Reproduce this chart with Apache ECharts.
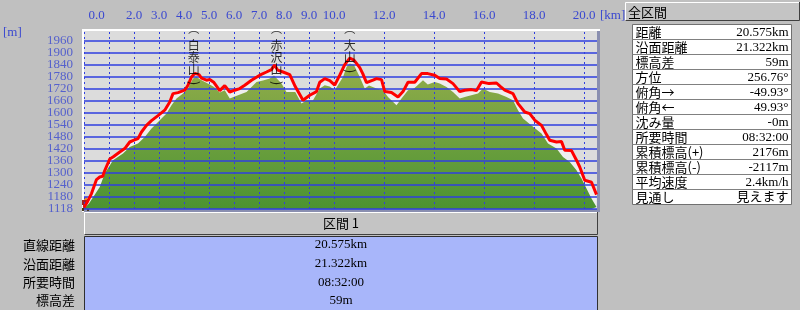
<!DOCTYPE html>
<html><head><meta charset="utf-8">
<script src="https://cdn.jsdelivr.net/npm/echarts@6/dist/echarts.min.js"></script>
<style>html,body{margin:0;padding:0;background:#c0c0c0}#c{width:800px;height:310px}</style>
</head><body><div id="c"></div>
<script>
// ---- data ----
const routeKm = [0.0,0.12,0.3,0.5,0.63,0.75,0.83,1.03,1.16,1.43,1.63,1.83,2.0,2.16,2.3,2.5,2.7,2.96,3.23,3.43,3.56,3.76,4.03,4.16,4.3,4.43,4.6,4.7,4.9,5.03,5.2,5.43,5.63,5.83,6.03,6.23,6.43,6.7,7.03,7.3,7.5,7.62,7.75,7.96,8.23,8.45,8.76,9.03,9.3,9.43,9.63,9.83,10.03,10.23,10.43,10.63,10.8,11.03,11.15,11.3,11.56,11.7,11.9,12.03,12.3,12.56,12.76,12.96,13.23,13.5,13.75,14.03,14.23,14.5,14.76,15.03,15.23,15.5,15.7,15.9,16.2,16.5,16.66,16.83,17.16,17.36,17.63,17.83,18.03,18.3,18.5,18.63,18.9,19.1,19.23,19.5,19.7,19.83,20.03,20.3,20.5];
const routeM = [1125,1150,1195,1265,1278,1282,1310,1368,1378,1403,1420,1453,1462,1470,1503,1536,1560,1585,1612,1653,1695,1700,1712,1737,1778,1796,1790,1772,1762,1765,1750,1710,1735,1703,1712,1720,1737,1762,1787,1803,1815,1838,1812,1803,1790,1730,1662,1687,1705,1752,1770,1760,1737,1787,1840,1872,1862,1825,1795,1750,1762,1770,1765,1705,1700,1678,1705,1752,1752,1795,1795,1787,1770,1768,1745,1705,1712,1715,1710,1753,1745,1748,1730,1712,1695,1645,1603,1595,1562,1536,1490,1462,1453,1455,1412,1410,1362,1328,1262,1252,1190];
const terrainKm = [0.0,0.2,0.63,0.83,1.16,1.56,1.83,2.16,2.43,2.7,3.03,3.3,3.5,3.7,3.96,4.16,4.36,4.5,4.7,5.03,5.2,5.43,5.63,5.83,6.03,6.5,6.9,7.16,7.43,7.6,7.9,8.1,8.45,8.7,8.9,9.16,9.43,9.63,9.83,10.03,10.36,10.5,10.63,10.8,11.03,11.23,11.4,11.7,11.96,12.16,12.5,12.7,12.96,13.2,13.56,13.75,14.03,14.23,14.5,14.76,15.03,15.3,15.76,15.96,16.23,16.56,16.9,17.16,17.36,17.56,17.9,18.3,18.56,18.9,19.16,19.43,19.7,19.9,20.1,20.3,20.5];
const terrainM = [1120,1145,1228,1295,1362,1395,1428,1445,1478,1520,1562,1595,1637,1670,1695,1720,1770,1778,1762,1740,1728,1700,1712,1670,1680,1703,1753,1760,1770,1785,1745,1703,1703,1645,1660,1662,1720,1737,1730,1712,1778,1828,1845,1838,1778,1720,1735,1720,1712,1678,1637,1670,1712,1720,1762,1740,1753,1745,1728,1703,1670,1680,1695,1720,1703,1695,1678,1662,1612,1570,1536,1495,1445,1420,1378,1353,1312,1270,1220,1170,1128];
const xTickValues = [0,2,3,4,5,6,7,8,9,10,12,14,16,18,20];
const xGridKm = [0,1,2,3,4,5,6,7,8,9,10,12,14,16,18,20];
const yTickValues = [1118,1180,1240,1300,1360,1420,1480,1540,1600,1660,1720,1780,1840,1900,1960];
const peakNames = ['白泰山','赤沢山','大山'];
const peakKm = [4.39,7.7,10.63];
const summaryTitle = '全区間';
const summaryLabels = ['距離','沿面距離','標高差','方位','俯角→','俯角←','沈み量','所要時間','累積標高(+)','累積標高(-)','平均速度','見通し'];
const summaryValues = ['20.575km','21.322km','59m','256.76°','-49.93°','49.93°','-0m','08:32:00','2176m','-2117m','2.4km/h','見えます'];
const sectionTitle = '区間 1';
const sectionLabels = ['直線距離','沿面距離','所要時間','標高差'];
const sectionValues = ['20.575km','21.322km','08:32:00','59m'];

// ---- chart ----
const X_MAX = 20.52, Y_MIN = 1118, Y_MAX = 2008;
const BLUE = '#2f3fe0', LBL = '#3a48d0';
const FONT = "'Liberation Serif','Noto Sans CJK JP',serif";
const JFONT = "'Noto Sans CJK JP',sans-serif";

const route = routeKm.map((k,i)=>[k,routeM[i]]);
const terrain = terrainKm.map((k,i)=>[k,terrainM[i]]);

const graphics = [];
graphics.push({type:'rect',shape:{x:82,y:29,width:518,height:183},style:{fill:'#ffffff'},z:-10});
graphics.push({type:'rect',shape:{x:84,y:31,width:516,height:181},style:{fill:'#8a8fb0'},z:-9});
graphics.push({type:'text',style:{text:'[m]',x:3,y:33,verticalAlign:'middle',font:'13px '+FONT,fill:LBL}});
graphics.push({type:'text',style:{text:'[km]',x:600,y:16,verticalAlign:'middle',font:'13px '+FONT,fill:LBL}});
// small hiker icon at the start point
graphics.push({type:'group',x:80,y:197,z:50,children:[
  {type:'rect',shape:{x:4,y:0,width:3,height:3},style:{fill:'#e08a30'}},
  {type:'rect',shape:{x:2,y:3,width:6,height:5},style:{fill:'#a02020'}},
  {type:'rect',shape:{x:3,y:8,width:5,height:3},style:{fill:'#7a5a30'}},
  {type:'rect',shape:{x:2,y:11,width:2,height:3},style:{fill:'#4a3a20'}},
  {type:'rect',shape:{x:7,y:11,width:2,height:3},style:{fill:'#4a3a20'}}
]});
function bevelBtn(x,y,w,h){
  graphics.push({type:'rect',shape:{x:x,y:y,width:w,height:h},style:{fill:'#c4c4c4',stroke:null}});
  graphics.push({type:'polyline',shape:{points:[[x+0.5,y+h],[x+0.5,y+0.5],[x+w,y+0.5]]},style:{stroke:'#ffffff',lineWidth:1,fill:null}});
  graphics.push({type:'polyline',shape:{points:[[x+0.5,y+h-0.5],[x+w-0.5,y+h-0.5],[x+w-0.5,y]]},style:{stroke:'#404040',lineWidth:1,fill:null}});
}
bevelBtn(625,2,175,19);
graphics.push({type:'text',style:{text:summaryTitle,x:628,y:12,verticalAlign:'middle',font:'13px '+JFONT,fill:'#000'}});
const TX=632.5, TY=24.5, TW=159, RH=15;
graphics.push({type:'rect',shape:{x:TX,y:TY,width:TW,height:RH*summaryLabels.length},style:{fill:'#ffffff',stroke:'#707070',lineWidth:1}});
summaryLabels.forEach((l,i)=>{
  if(i>0) graphics.push({type:'line',shape:{x1:TX,y1:TY+RH*i,x2:TX+TW,y2:TY+RH*i},style:{stroke:'#808080',lineWidth:1}});
  graphics.push({type:'text',style:{text:l,x:TX+3,y:TY+RH*i+8,verticalAlign:'middle',font:'13px '+JFONT,fill:'#000'}});
  graphics.push({type:'text',style:{text:summaryValues[i],x:TX+TW-3,y:TY+RH*i+8,align:'right',verticalAlign:'middle',font:'13px '+FONT,fill:'#000'}});
});
bevelBtn(84,212,514,23);
graphics.push({type:'text',style:{text:sectionTitle,x:341,y:223,align:'center',verticalAlign:'middle',font:'13px '+JFONT,fill:'#000'}});
graphics.push({type:'rect',shape:{x:84.5,y:236.5,width:513,height:80},style:{fill:'#a8b6fa',stroke:'#303030',lineWidth:1}});
const secY = [245,264,282.5,300.5];
sectionLabels.forEach((l,i)=>{
  graphics.push({type:'text',style:{text:l,x:75,y:secY[i],align:'right',verticalAlign:'middle',font:'13px '+JFONT,fill:'#000'}});
  graphics.push({type:'text',style:{text:sectionValues[i],x:341,y:secY[i],align:'center',verticalAlign:'middle',font:'13px '+FONT,fill:'#000'}});
});

const option = {
  animation:false,
  backgroundColor:'#c0c0c0',
  grid:{left:84,top:31,width:513,height:178,show:true,backgroundColor:'#dcdcdc',borderWidth:0},
  xAxis:{type:'value',position:'top',min:0,max:X_MAX,
    axisLine:{show:false},axisTick:{show:false},splitLine:{show:false},
    axisLabel:{customValues:xTickValues,color:LBL,fontFamily:FONT,fontSize:13,margin:9,showMinLabel:true,showMaxLabel:true,
      formatter:v=> v===0 ? '{s|0.0}' : v.toFixed(1),
      rich:{s:{color:LBL,fontFamily:FONT,fontSize:13,padding:[0,0,0,25]}}}},
  yAxis:{type:'value',min:Y_MIN,max:Y_MAX,
    axisLine:{show:false},axisTick:{show:false},splitLine:{show:false},axisLabel:{show:false}},
  series:[
    {type:'line',data:route,symbol:'none',lineStyle:{width:0},areaStyle:{color:'#eeeeee',opacity:1},z:1,silent:true},
    {type:'line',data:terrain,symbol:'none',lineStyle:{width:0},
      areaStyle:{opacity:1,color:new echarts.graphic.LinearGradient(0,0,0,1,[{offset:0,color:'#93ad4b'},{offset:1,color:'#4b9332'}])},
      z:2,silent:true,
      markLine:{silent:true,symbol:'none',label:{show:false},animation:false,
        data:[
          ...yTickValues.map(v=>({yAxis:v,lineStyle:{color:BLUE,width:1.5,type:'solid'}})),
          ...xGridKm.map(v=>({xAxis:v,lineStyle:{color:BLUE,width:1,type:[2,3]}}))
        ]}},
    {type:'line',data:route,symbol:'none',lineStyle:{color:'#ff0000',width:3},z:10,silent:true},
    // y-axis tick labels, positioned through the y scale
    {type:'scatter',data:yTickValues.map(v=>[0,v]),symbolSize:0,z:12,silent:true,clip:false,
      label:{show:true,position:'left',distance:11,formatter:p=>String(p.value[1]),color:LBL,fontFamily:FONT,fontSize:13}},
    {type:'scatter',data:peakKm.map((k,i)=>({value:[k,Y_MAX],name:peakNames[i]})),symbolSize:0,z:12,silent:true,
      label:{show:true,position:'bottom',distance:0,
        formatter:p=>'{b|⌒}\n'+p.name.split('').map(c=>'{c|'+c+'}').join('\n')+'\n{d|‿}',
        rich:{c:{fontFamily:JFONT,fontSize:12,lineHeight:12,color:'#000'},
              b:{fontFamily:JFONT,fontSize:11,lineHeight:8,color:'#000',padding:[3,0,0,0]},
              d:{fontFamily:"'DejaVu Sans','Noto Sans CJK JP'",fontSize:14,lineHeight:4,color:'#000'}}}}
  ],
  graphic:graphics
};
const chart = echarts.init(document.getElementById('c'),null,{renderer:'canvas'});
chart.setOption(option);
</script></body></html>
